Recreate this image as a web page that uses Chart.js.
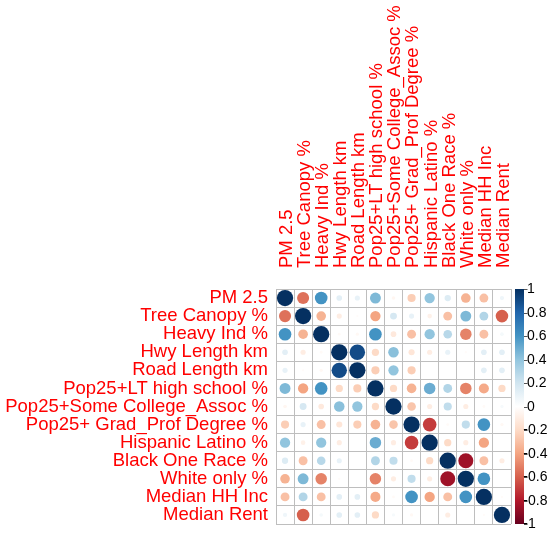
<!DOCTYPE html>
<html><head><meta charset="utf-8">
<script src="https://cdn.jsdelivr.net/npm/chart.js@4"></script>
<style>html,body{margin:0;padding:0;background:#fff}#wrap{width:550px;height:537px;position:relative}</style>
</head><body><div id="wrap"><canvas id="c"></canvas></div>
<script>
const variables = ["PM 2.5","Tree Canopy %","Heavy Ind %","Hwy Length km","Road Length km","Pop25+LT high school %","Pop25+Some College_Assoc %","Pop25+ Grad_Prof Degree %","Hispanic Latino %","Black One Race %","White only %","Median HH Inc","Median Rent"];

const rowPM25      = [1, -0.55, 0.6, 0.12, 0.1, 0.45, -0.05, -0.25, 0.4, 0.15, -0.35, -0.3, 0.07];
const rowTree      = [-0.55, 1, -0.35, -0.1, -0.02, -0.4, 0.18, 0.1, -0.08, -0.3, 0.45, 0.3, -0.6];
const rowHeavy     = [0.6, -0.35, 1, -0.03, -0.04, 0.6, -0.12, -0.3, 0.4, 0.28, -0.5, -0.3, 0.05];
const rowHwy       = [0.12, -0.1, -0.03, 1, 0.9, -0.2, 0.42, -0.14, -0.1, 0.1, -0.02, 0.12, 0.12];
const rowRoad      = [0.1, -0.02, -0.04, 0.9, 1, -0.25, 0.4, -0.25, 0, 0, 0, 0.12, 0.12];
const rowLTHS      = [0.45, -0.4, 0.6, -0.2, -0.25, 1, -0.2, -0.35, 0.5, 0.3, -0.5, -0.38, -0.2];
const rowSomeCol   = [-0.05, 0.18, -0.12, 0.42, 0.4, -0.2, 1, -0.28, -0.1, 0.25, -0.1, -0.03, 0.04];
const rowGrad      = [-0.25, 0.1, -0.3, -0.14, -0.25, -0.35, -0.28, 1, -0.7, -0.03, 0.25, 0.6, -0.04];
const rowHispanic  = [0.4, -0.08, 0.4, -0.1, 0, 0.5, -0.1, -0.7, 1, -0.2, -0.1, -0.4, 0];
const rowBlack     = [0.15, -0.3, 0.28, 0.1, 0, 0.3, 0.25, -0.03, -0.2, 1, -0.85, -0.3, -0.1];
const rowWhite     = [-0.35, 0.45, -0.5, -0.02, 0, -0.5, -0.1, 0.25, -0.1, -0.85, 1, 0.6, 0];
const rowMedHH     = [-0.3, 0.3, -0.3, 0.12, 0.12, -0.38, -0.03, 0.6, -0.4, -0.3, 0.6, 1, -0.02];
const rowMedRent   = [0.07, -0.6, 0.05, 0.12, 0.12, -0.2, 0.04, -0.04, 0, -0.1, 0, -0.02, 1];

const colorTicks = [1, 0.8, 0.6, 0.4, 0.2, 0, -0.2, -0.4, -0.6, -0.8, -1];
const colorTickLabels = ["1","0.8","0.6","0.4","0.2","0","-0.2","-0.4","-0.6","-0.8","-1"];

const corr = [rowPM25,rowTree,rowHeavy,rowHwy,rowRoad,rowLTHS,rowSomeCol,rowGrad,rowHispanic,rowBlack,rowWhite,rowMedHH,rowMedRent];

const palette = ["#67001F","#B2182B","#D6604D","#F4A582","#FDDBC7","#FFFFFF","#D1E5F0","#92C5DE","#4393C3","#2166AC","#053061"];
function hex2rgb(h){return [parseInt(h.slice(1,3),16),parseInt(h.slice(3,5),16),parseInt(h.slice(5,7),16)];}
const palRGB = palette.map(hex2rgb);
function colorFor(v){
  const t = (Math.max(-1,Math.min(1,v)) + 1) / 2 * (palRGB.length - 1);
  const i = Math.min(palRGB.length - 2, Math.floor(t));
  const f = t - i;
  const a = palRGB[i], b = palRGB[i+1];
  const c = a.map((x,k)=>Math.round(x + (b[k]-x)*f));
  return `rgb(${c[0]},${c[1]},${c[2]})`;
}

const points = [];
corr.forEach((row,i)=>row.forEach((v,j)=>points.push({x: variables[j], y: variables[i], v: v})));

const FONT = '"Liberation Sans", Arial, sans-serif';
const GRID = '#BEBEBE';

const colorbarPlugin = {
  id: 'colorbar',
  afterDraw(chart){
    const s = chart.scales.cb;
    const ctx = chart.ctx;
    const x0 = chart.chartArea.right + 4, w = 9;
    const top = s.getPixelForValue(1), bot = s.getPixelForValue(-1);
    const g = ctx.createLinearGradient(0, bot, 0, top);
    palette.forEach((c,k)=>g.addColorStop(k/(palette.length-1), c));
    ctx.save();
    ctx.fillStyle = g;
    ctx.fillRect(x0, top, w, bot - top);
    ctx.strokeStyle = '#555';
    ctx.lineWidth = 1;
    ctx.font = '14px ' + FONT;
    ctx.fillStyle = '#000';
    ctx.textBaseline = 'middle';
    ctx.textAlign = 'left';
    const minusW = ctx.measureText('-').width;
    colorTicks.forEach((v,k)=>{
      const y = Math.round(s.getPixelForValue(v)) + 0.5;
      ctx.beginPath();
      ctx.moveTo(x0 + w, y); ctx.lineTo(x0 + w + 3.5, y);
      ctx.stroke();
      const lab = colorTickLabels[k];
      const lx = x0 + w + 3 - (lab.startsWith('-') ? minusW - 1 : 0);
      ctx.fillText(lab, lx, y);
    });
    ctx.restore();
  }
};

const radiusFn = (c)=>{ const raw = c.raw; if(!raw) return 0; const cell = c.chart.scales.x.width / variables.length; return 0.45 * Math.sqrt(Math.abs(raw.v)) * cell; };

new Chart(document.getElementById('c'), {
  type: 'scatter',
  data: { datasets: [{
    data: points,
    pointRadius: radiusFn,
    pointHoverRadius: radiusFn,
    pointBackgroundColor: (c)=> c.raw ? colorFor(c.raw.v) : '#fff',
    pointBorderWidth: 0,
    pointBorderColor: 'rgba(0,0,0,0)'
  }]},
  options: {
    responsive: true, maintainAspectRatio: false, animation: false, events: [],
    layout: { padding: { left: 0, right: 0, top: 0, bottom: 13 } },
    plugins: { legend: { display: false }, tooltip: { enabled: false } },
    scales: {
      x: {
        type: 'category', labels: variables, position: 'top', offset: true,
        grid: { offset: true, color: GRID, drawTicks: false, lineWidth: 1 },
        border: { display: true, color: GRID },
        ticks: { color: '#FF0000', font: { family: FONT, size: 18.5 }, minRotation: 90, maxRotation: 90, autoSkip: false, padding: 21, labelOffset: 24 },
        afterFit: (s)=>{ s.height = 289; s.paddingLeft = 0; s.paddingRight = 0; }
      },
      y: {
        type: 'category', labels: variables, position: 'left', offset: true,
        grid: { offset: true, color: GRID, drawTicks: false, lineWidth: 1 },
        border: { display: true, color: GRID },
        ticks: { color: '#FF0000', font: { family: FONT, size: 18.5 }, autoSkip: false, padding: 8 },
        afterFit: (s)=>{ s.width = 276; s.paddingTop = 0; s.paddingBottom = 0; }
      },
      cb: {
        type: 'linear', position: 'right', min: -1, max: 1,
        grid: { display: false, drawOnChartArea: false },
        border: { display: false },
        ticks: { display: false },
        afterFit: (s)=>{ s.width = 39; s.paddingTop = 0; s.paddingBottom = 0; }
      }
    }
  },
  plugins: [colorbarPlugin]
});
</script>
</body></html>
